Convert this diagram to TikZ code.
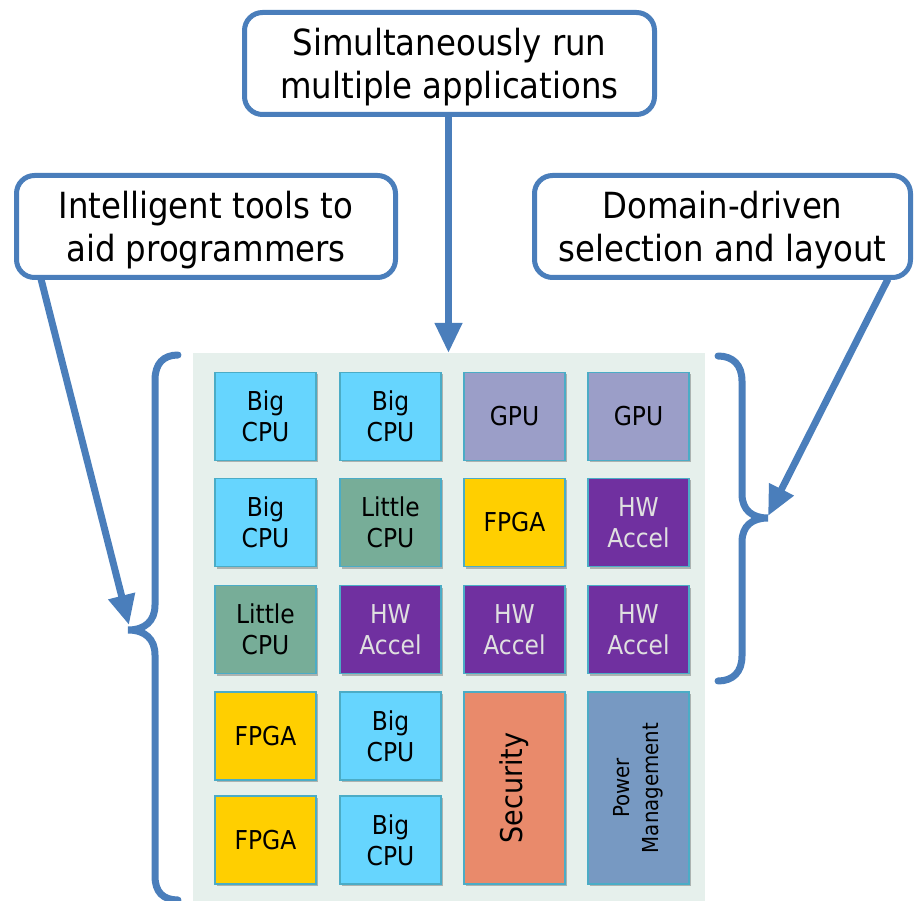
\documentclass[tikz,border=0pt]{standalone}
\usepackage{fontspec}
\setmainfont{DejaVu Sans}[FakeStretch=0.9]
\usetikzlibrary{arrows.meta,shadows}
\definecolor{blueline}{HTML}{4A7EBB}
\definecolor{panelc}{HTML}{E6F0EC}
\definecolor{bigcpu}{HTML}{66D5FE}
\definecolor{littlecpu}{HTML}{77AD98}
\definecolor{gpuc}{HTML}{9B9EC8}
\definecolor{fpgac}{HTML}{FFCF00}
\definecolor{hwc}{HTML}{7030A0}
\definecolor{secc}{HTML}{E98A6B}
\definecolor{pwrc}{HTML}{7799C2}
\definecolor{tileborder}{HTML}{4BACC6}
\newcommand{\topstrut}{\rule{0pt}{35pt}}
\begin{document}
\begin{tikzpicture}[x=1pt,y=-1pt,
  callout/.style={draw=blueline, line width=5pt, rounded corners=18pt, fill=white,
    align=center, inner sep=0pt, font=\fontsize{36}{43}\selectfont},
  tile/.style={draw=tileborder, line width=1.5pt, minimum width=101pt, minimum height=88pt,
    inner sep=0pt, align=center, font=\fontsize{26}{31}\selectfont,
    drop shadow={shadow xshift=1.5pt, shadow yshift=-2pt, fill=black, opacity=0.25}},
  arrowline/.style={draw=blueline, line width=7pt, -{Triangle[length=30pt,width=26pt]}},
  bracepath/.style={draw=blueline, line width=7pt, line cap=round}]
\useasboundingbox (0,0) rectangle (914,901);
% panel
\node[fill=panelc, minimum width=512pt, minimum height=548pt, inner sep=0pt] (panel) at (449,627) {};
% tiles
\node[tile, fill=bigcpu] (t11) at (265.5,416.5) {Big\\CPU};
\node[tile, fill=bigcpu] (t12) at (390.5,416.5) {Big\\CPU};
\node[tile, fill=gpuc] (t13) at (514.5,416.5) {GPU};
\node[tile, fill=gpuc] (t14) at (638.5,416.5) {GPU};
\node[tile, fill=bigcpu] (t21) at (265.5,522.5) {Big\\CPU};
\node[tile, fill=littlecpu] (t22) at (390.5,522.5) {Little\\CPU};
\node[tile, fill=fpgac] (t23) at (514.5,522.5) {FPGA};
\node[tile, fill=hwc, text=black!12] (t24) at (638.5,522.5) {HW\\Accel};
\node[tile, fill=littlecpu] (t31) at (265.5,629.5) {Little\\CPU};
\node[tile, fill=hwc, text=black!12] (t32) at (390.5,629.5) {HW\\Accel};
\node[tile, fill=hwc, text=black!12] (t33) at (514.5,629.5) {HW\\Accel};
\node[tile, fill=hwc, text=black!12] (t34) at (638.5,629.5) {HW\\Accel};
\node[tile, fill=fpgac] (t41) at (265.5,736) {FPGA};
\node[tile, fill=bigcpu] (t42) at (390.5,736) {Big\\CPU};
\node[tile, fill=fpgac] (t51) at (265.5,840) {FPGA};
\node[tile, fill=bigcpu] (t52) at (390.5,840) {Big\\CPU};
\node[tile, fill=secc, minimum height=192pt] (sec) at (514.5,788) {};
\node[rotate=90, font=\fontsize{30}{34}\selectfont] (sectext) at (sec.center) {Security};
\node[tile, fill=pwrc, minimum height=192pt] (pwr) at (638.5,788) {};
\node[rotate=90, align=center, font=\fontsize{22}{29}\selectfont] (pwrtext) at (pwr.center) {Power\\Management};
% callouts
\node[callout, minimum width=410pt, minimum height=102pt] (topbox) at (449.5,63.5) {\topstrut Simultaneously run\\multiple applications};
\node[callout, minimum width=379pt, minimum height=102pt] (leftbox) at (206,226.5) {\topstrut Intelligent tools to\\aid programmers};
\node[callout, minimum width=376pt, minimum height=102pt] (rightbox) at (722.5,226.5) {\topstrut Domain-driven\\selection and layout};
% braces
\draw[bracepath] (178,355) .. controls (163,355) and (155,364) .. (155,380) -- (155,605)
  .. controls (155,621) and (145,630) .. (128,630)
  .. controls (145,630) and (155,639) .. (155,655) -- (155,876)
  .. controls (155,892) and (163,900) .. (178,900);
\draw[bracepath] (718,356) .. controls (733,356) and (742,365) .. (742,381) -- (742,494)
  .. controls (742,510) and (752,518) .. (768,518)
  .. controls (752,518) and (742,526) .. (742,542) -- (742,656)
  .. controls (742,672) and (733,681) .. (718,681);
% arrows
\coordinate (toptip) at (448.5,353);
\coordinate (leftstart) at (41,279);
\coordinate (lefttip) at (129,625);
\coordinate (rightstart) at (888,279);
\coordinate (righttip) at (768,516);
\draw[arrowline] (topbox.south -| toptip) -- (toptip);
\draw[arrowline] (leftstart) -- (lefttip);
\draw[arrowline] (rightstart) -- (righttip);
\end{tikzpicture}
\end{document}
